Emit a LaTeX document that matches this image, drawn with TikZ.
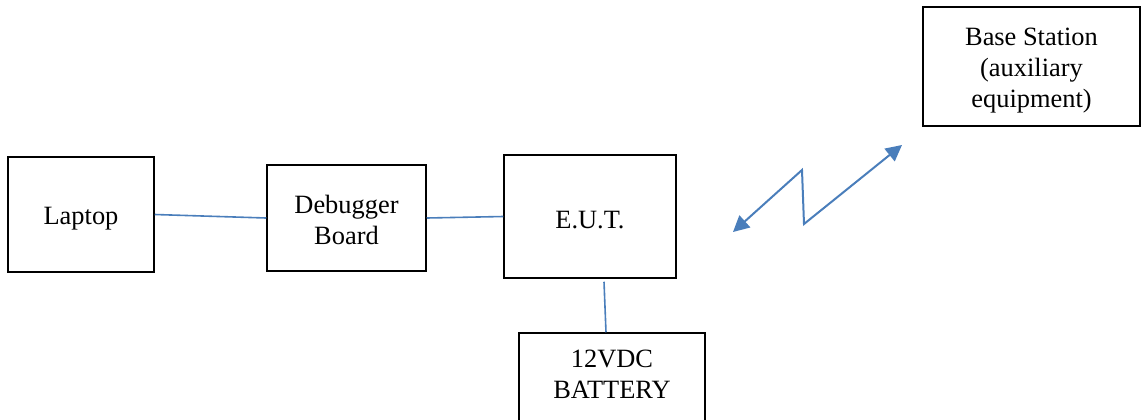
\documentclass[tikz,border=0pt]{standalone}
\usepackage{fontspec}
\setmainfont{Liberation Serif}
\usetikzlibrary{arrows.meta}
\definecolor{wblue}{HTML}{4A7EBB}
\tikzset{
  box/.style={draw=black, line width=0.75pt, inner sep=0pt},
  txt/.style={inner sep=0pt, align=center, font=\fontsize{13.2}{15.5}\selectfont},
  wire/.style={draw=wblue, line width=0.8pt},
  radio/.style={draw=wblue, line width=1pt, {Triangle[length=8pt,width=8pt]}-{Triangle[length=8pt,width=8pt]}},
}
\begin{document}
\begin{tikzpicture}[x=0.5pt, y=-0.5pt]
\useasboundingbox (0,0) rectangle (1147,419);
\clip (0,0) rectangle (1147,419);
\node[box, minimum width=73pt, minimum height=57.5pt] (lap) at (81,214.5) {};
\node[txt] (laptxt) at (81,218.5) {Laptop};
\node[box, minimum width=79.5pt, minimum height=53pt] (dbg) at (346.5,218) {};
\node[txt] (dbgtxt) at (346.5,220) {Debugger\\Board};
\node[box, minimum width=86pt, minimum height=61.5pt] (eut) at (590,216.5) {};
\node[txt] (euttxt) at (590,220.5) {E.U.T.};
\node[box, minimum width=93pt, minimum height=50pt] (bat) at (612,383) {};
\node[txt] (battxt) at (612,374.5) {12VDC\\BATTERY};
\node[box, minimum width=108.5pt, minimum height=59.5pt] (base) at (1031.5,66.5) {};
\node[txt] (basetxt) at (1031.5,71) {Base Station\\(auxiliary\\equipment)};
\draw[wire] (lap.east) -- (dbg.west);
\draw[wire] (dbg.east) -- (eut.west);
\draw[wire] ([xshift=7pt,yshift=-1.5pt]eut.south) -- ([xshift=-3pt]bat.north);
\coordinate (zl) at (733,232);
\coordinate (zt) at (802,170);
\coordinate (zb) at (804,224);
\coordinate (zr) at (902,145);
\draw[radio] (zl) -- (zt) -- (zb) -- (zr);
\end{tikzpicture}
\end{document}
